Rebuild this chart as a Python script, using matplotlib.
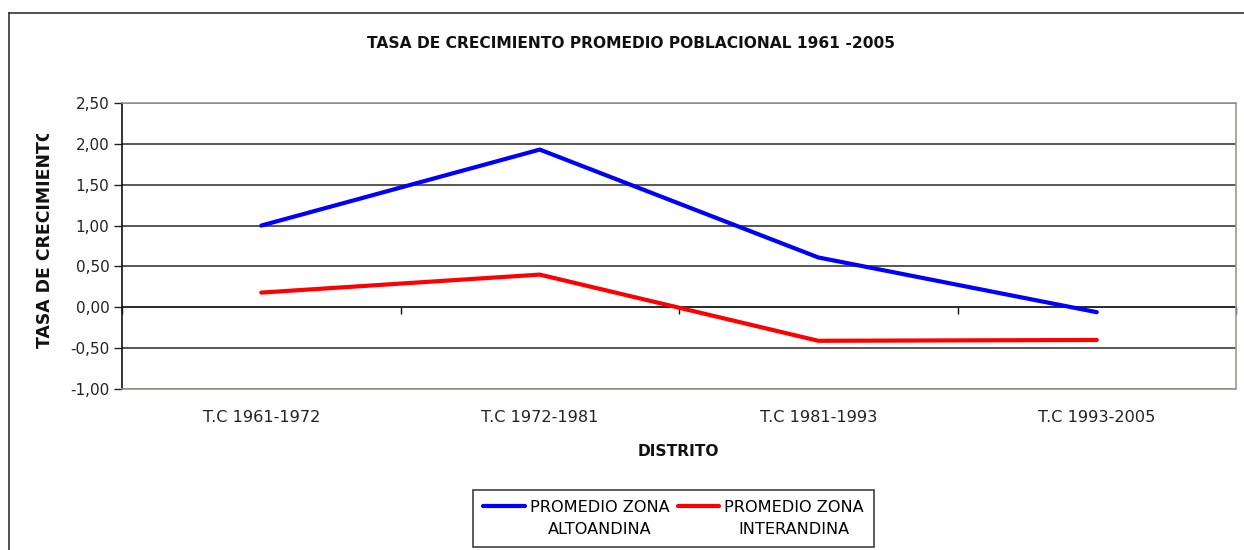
"""Tasa de crecimiento promedio poblacional 1961-2005."""

import matplotlib
matplotlib.use("Agg")
import numpy as np
import matplotlib.pyplot as plt
from matplotlib.legend_handler import HandlerLine2D
from matplotlib.lines import Line2D
from matplotlib.transforms import Bbox, TransformedBbox
from matplotlib.ticker import FuncFormatter, MultipleLocator

categorias = ["T.C 1961-1972", "T.C 1972-1981", "T.C 1981-1993", "T.C 1993-2005"]
altoandina = [1.00, 1.93, 0.61, -0.06]
interandina = [0.18, 0.40, -0.41, -0.40]
series_labels = ["PROMEDIO ZONA\nALTOANDINA", "PROMEDIO ZONA\nINTERANDINA"]
y_min, y_max = -1.0, 2.5

plt.rcParams["font.family"] = ["DejaVu Sans"]
plt.rcParams["font.size"] = 11


class FirstLineHandler(HandlerLine2D):
    # put the legend line next to the first text line, like Excel does
    def create_artists(self, legend, orig_handle, xdescent, ydescent,
                       width, height, fontsize, trans):
        arts = super().create_artists(legend, orig_handle, xdescent, ydescent,
                                      width, height, fontsize, trans)
        for a in arts:
            a.set_ydata(np.asarray(a.get_ydata()) + 0.8 * fontsize)
        return arts


W, H = 1244, 550
fig = plt.figure(figsize=(W / 100, H / 100), dpi=100)
fig.patch.set_facecolor("white")

# outer chart frame (cut at right and bottom)
fig.add_artist(Line2D([9 / W, 1], [1 - 13 / H, 1 - 13 / H], color="#333333", lw=1.2))
fig.add_artist(Line2D([9 / W, 9 / W], [0, 1 - 13 / H], color="#333333", lw=1.2))

ax = fig.add_axes([122 / W, 1 - 389 / H, (1236 - 122) / W, (389 - 103) / H])
x = [i + 0.5 for i in range(len(categorias))]
ax.plot(x, altoandina, color="#0000ff", lw=3, label=series_labels[0], solid_capstyle="round")
ax.plot(x, interandina, color="#ff0000", lw=3, label=series_labels[1], solid_capstyle="round")

ax.set_xlim(0, len(categorias))
ax.set_ylim(y_min, y_max)
ax.yaxis.set_major_locator(MultipleLocator(0.5))
ax.yaxis.set_major_formatter(FuncFormatter(lambda v, p: f"{v:.2f}".replace(".", ",")))
ax.grid(axis="y", color="#2a2a2a", lw=1.1)
ax.set_axisbelow(True)
ax.set_xticks(x)
ax.set_xticklabels(categorias)
ax.tick_params(axis="x", length=0, pad=15, colors="#222222", labelsize=11.6)
ax.tick_params(axis="y", direction="out", length=6, width=1, colors="#222222", pad=3, labelsize=11)

for s in ["top", "right", "bottom"]:
    ax.spines[s].set_color("#9a9a90")
    ax.spines[s].set_linewidth(1.2)
ax.spines["left"].set_color("#111111")
ax.spines["left"].set_linewidth(1.2)

# category axis crossing at zero with boundary ticks
zero_pos = (0 - y_min) / (y_max - y_min)
sec = ax.secondary_xaxis(zero_pos)
sec.set_xticks(range(len(categorias) + 1))
sec.tick_params(axis="x", direction="out", length=5, width=1, labelbottom=False, colors="#111111")
sec.spines["bottom"].set_color("#111111")
sec.spines["bottom"].set_linewidth(1.2)

fig.text(631 / W, 1 - 43 / H, "TASA DE CRECIMIENTO PROMEDIO POBLACIONAL 1961 -2005",
         ha="center", va="center", fontsize=11.2, fontweight="bold", color="#111111")
fig.text(678 / W, 1 - 451 / H, "DISTRITO", ha="center", va="center",
         fontsize=11.2, fontweight="bold", color="#111111")

# axis title clipped at the top, as in the original chart
ylab = fig.text(45 / W, 1 - 348 / H, "TASA DE CRECIMIENTO", rotation=90,
                rotation_mode="anchor", ha="left", va="center",
                fontsize=12.4, fontweight="bold", color="#111111")
ylab.set_clip_on(True)
ylab.set_clip_box(TransformedBbox(Bbox([[0, 0], [1, 1 - 134 / H]]), fig.transFigure))

leg = fig.legend(loc="center", bbox_to_anchor=(673.5 / W, 1 - 518.5 / H), ncol=2,
                 frameon=True, fancybox=False, edgecolor="#111111", handlelength=2.6,
                 handletextpad=0.3, columnspacing=0.5, borderpad=0.6, fontsize=11.6,
                 handler_map={Line2D: FirstLineHandler()})
leg.get_frame().set_linewidth(1.2)
for t in leg.get_texts():
    t.set_multialignment("center")
    t.set_linespacing(1.65)

fig.savefig("out.png", dpi=100)
